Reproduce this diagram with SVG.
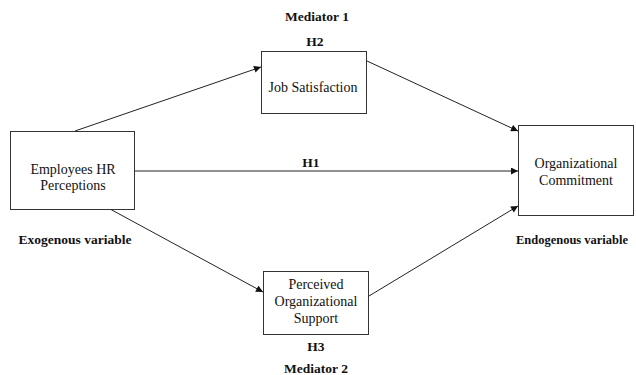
<svg xmlns="http://www.w3.org/2000/svg" width="636" height="375" viewBox="0 0 636 375">
<defs>
<marker id="arr" viewBox="0 0 10 10" refX="10" refY="5" markerWidth="8" markerHeight="7" markerUnits="userSpaceOnUse" orient="auto">
<path d="M0,0 L10,5 L0,10 z" fill="#111"/>
</marker>
<style>
.box{fill:#fff;stroke:#333;stroke-width:1}
.t{font-family:"Liberation Serif","Times New Roman",serif;font-size:14px;fill:#111;text-anchor:middle}
.b{font-family:"Liberation Serif","Times New Roman",serif;font-size:13.5px;font-weight:bold;fill:#111;text-anchor:middle}
.c{stroke:#222;stroke-width:1;fill:none;marker-end:url(#arr)}
</style>
</defs>
<rect width="636" height="375" fill="#fff"/>
<g id="connectors">
<line class="c" x1="75" y1="131" x2="261" y2="67"/>
<line class="c" x1="367" y1="61" x2="518" y2="131"/>
<line class="c" x1="135" y1="171" x2="518" y2="171"/>
<line class="c" x1="110" y1="209" x2="263" y2="292"/>
<line class="c" x1="369" y1="296" x2="518" y2="206"/>
</g>
<g id="hr">
<rect class="box" x="10.5" y="131.5" width="124" height="78"/>
<text class="t" x="73" y="174">Employees HR</text>
<text class="t" x="73" y="190">Perceptions</text>
</g>
<g id="js">
<rect class="box" x="261.5" y="51.5" width="105" height="62"/>
<text class="t" x="313" y="92">Job Satisfaction</text>
</g>
<g id="oc">
<rect class="box" x="518.5" y="125.5" width="115" height="90"/>
<text class="t" x="576" y="168">Organizational</text>
<text class="t" x="576" y="185">Commitment</text>
</g>
<g id="pos">
<rect class="box" x="263.5" y="271.5" width="105" height="63"/>
<text class="t" x="316" y="289">Perceived</text>
<text class="t" x="316" y="306">Organizational</text>
<text class="t" x="316" y="323">Support</text>
</g>
<g id="labels">
<text class="b" x="317" y="21">Mediator 1</text>
<text class="b" x="315" y="46">H2</text>
<text class="b" x="311" y="167">H1</text>
<text class="b" x="316" y="351">H3</text>
<text class="b" x="316" y="373">Mediator 2</text>
<text class="b" x="75" y="244">Exogenous variable</text>
<text class="b" x="516" y="244" style="text-anchor:start" textLength="112" lengthAdjust="spacingAndGlyphs">Endogenous variable</text>
</g>
</svg>
